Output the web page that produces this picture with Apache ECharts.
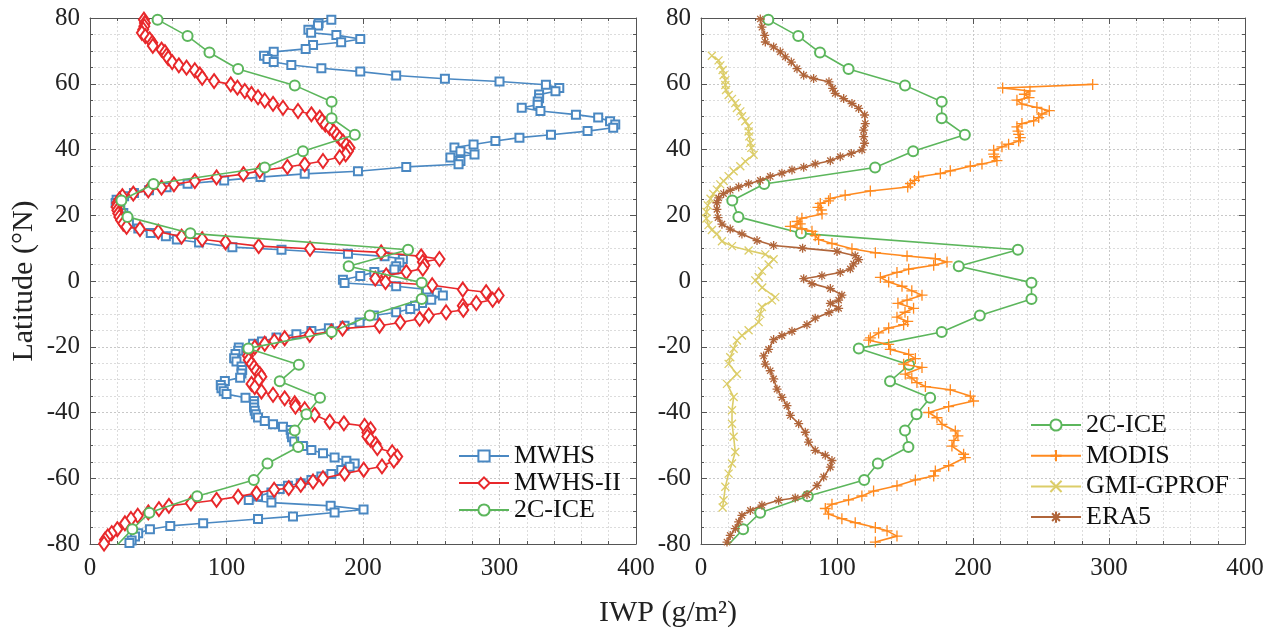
<!DOCTYPE html>
<html><head><meta charset="utf-8">
<script src="https://cdn.jsdelivr.net/npm/echarts@6/dist/echarts.min.js"></script>
<style>html,body{margin:0;padding:0;background:#fff}#c{width:1283px;height:635px}</style>
</head><body><div id="c"></div>
<script>
// ---- data: [latitude, IWP] ----
const xTicks = [0, 100, 200, 300, 400];
const yTicks = [-80, -60, -40, -20, 0, 20, 40, 60, 80];

const mwhs = [[79.5,176.8],[78.4,167.5],[77.7,167],[76.4,160],[75.5,162],[74.8,180.5],[73.6,198],[72.6,184],[71.8,163.4],[70.6,158],[69.7,134.6],[68.5,127.5],[67.5,130],[66.6,134.6],[65.7,147.5],[64.7,169.5],[63.7,198],[62.5,224.3],[61.5,260],[60.7,300],[59.7,334],[58.7,343.8],[57.7,341],[56.7,329],[55.6,329],[54.6,328],[53.6,328],[52.7,316.3],[51.7,330],[50.6,356],[49.7,372.3],[48.6,381],[47.6,384.8],[46.6,383.3],[45.6,364.5],[44.5,337.7],[43.6,314.6],[42.6,297],[41.5,281],[40.6,267],[39.5,271.4],[38.5,281.7],[37.6,264],[36.5,271.4],[35.5,270],[34.7,231.7],[33.4,196.3],[32.6,157.3],[31.6,124.9],[30.6,98.3],[29.6,71.5],[28.5,56.1],[27.6,43.2],[26.8,32.2],[25.8,25],[24.7,19.5],[23.7,18.8],[22.7,20],[21.7,22.2],[20.7,24.4],[19.7,26.1],[18.5,28],[17.5,28.5],[16,35.4],[14.6,44.5],[13.6,55.6],[12.6,63.6],[11.7,79.9],[10.3,104.3],[9.5,140.3],[8.3,189],[7.5,215.8],[6.7,229.2],[5.6,226.7],[4.5,224.3],[3.5,223],[2.7,208.3],[1.5,198],[0.4,185.3],[-0.6,186.5],[-1.6,224.3],[-2.6,246.8],[-3.6,254.1],[-4.4,258.5],[-5.7,250],[-6.7,243.3],[-7.5,238.1],[-8.5,234.6],[-9.5,224.3],[-10.5,208],[-12.6,197.5],[-13.6,186.5],[-14.4,175],[-15.2,162.2],[-16.2,151.2],[-17.2,136.6],[-18.4,126],[-19.1,119.5],[-20.2,109],[-21.2,108.6],[-22.2,106.6],[-23.5,105.6],[-24.5,107.3],[-26,111],[-27.1,111.5],[-28.1,111],[-29.4,110],[-30.4,98.8],[-31.6,95.8],[-32.6,96.3],[-33.5,98],[-34.4,100],[-35.5,113.9],[-36.5,120.2],[-37.5,120.2],[-38.5,120.2],[-39.5,120.7],[-40.5,121.5],[-41.5,123.1],[-42.6,128],[-43.6,134.1],[-44.3,141.4],[-45.3,147],[-46.5,147.5],[-47.5,148],[-48.8,149.6],[-50.2,156],[-51.4,162.2],[-52.4,170.7],[-53.7,179.2],[-54.7,187.8],[-55.5,193.9],[-56.5,190.2],[-57.5,184.1],[-58.7,176.8],[-59.5,169.5],[-60.5,162.2],[-61.5,154.4],[-62.3,145],[-63.3,139],[-64.3,132.9],[-65.5,123.1],[-66.6,116.3],[-67.4,132.9],[-68.4,176.3],[-69.5,200.4],[-70.4,179.2],[-71.6,148.7],[-72.4,123.1],[-73.7,82.9],[-74.5,58.8],[-75.5,43.9],[-76.7,35.3],[-77.7,33],[-78.9,30.5],[-79.7,28.9]];

const mwhs2 = [[79.5,39.5],[78.5,40.2],[77.5,39.8],[76.5,39],[75.5,38],[74.5,40.5],[73.5,43.7],[72.5,45.6],[71.5,46],[70.4,52.4],[69.6,54.9],[68.6,56.1],[67.8,57.3],[66.6,60.2],[65.6,65.1],[64.9,70.7],[64.1,76.8],[62.8,80.5],[61.8,82.2],[60.8,90.9],[59.8,103.1],[58.8,108],[57.8,113.4],[56.9,118.3],[55.9,123.1],[54.9,128],[53.9,134.1],[52.7,141.4],[51.7,152.4],[50.7,162.2],[49.7,168.3],[48.6,170],[47.6,172.4],[46.6,175.6],[45.4,178.7],[44.4,180.9],[43.4,182.9],[42.4,185.3],[41.4,187.7],[40.5,190.2],[39.5,189],[38.5,187.3],[37.7,182.9],[36.5,170.7],[35.5,157.3],[34.7,144.6],[33.5,124.4],[32.5,112.4],[31.5,92.7],[30.4,76.8],[29.4,61.5],[28.4,52.4],[27.6,42.7],[26.6,31.7],[25.8,23.7],[24.8,21.5],[23.7,20],[22.5,19.5],[21.5,20],[20.5,20.7],[19.5,21.5],[18.5,22.7],[17.5,24.4],[16.5,26.8],[15.8,36.6],[15,50],[13.5,67.1],[12.7,82.2],[11.8,99.3],[10.6,123.6],[9.8,161.2],[8.7,213.3],[7.5,242.6],[6.7,256],[5.8,243.8],[4.8,245],[3.8,243.8],[2.7,231.7],[1.7,217],[0.7,209],[-0.3,216.5],[-1.3,250.7],[-2.6,273.1],[-3.4,290.2],[-4.4,299.4],[-5.7,295],[-6.7,283],[-7.5,273.1],[-8.8,273.5],[-9.5,260.9],[-10.5,248.2],[-11.5,241.5],[-12.6,227.3],[-13.6,212.1],[-14.5,185],[-15.4,176.8],[-16.4,161],[-17.4,142.6],[-18.3,135],[-19.1,128],[-20.2,120.7],[-21.5,116.3],[-22.8,115.8],[-24,116.3],[-25.2,118.3],[-26.2,120.2],[-27.3,121.9],[-28.3,124.4],[-29.1,125.6],[-30.3,123.1],[-31.3,118.3],[-32.3,120.7],[-33.6,125.6],[-34.6,134.1],[-35.7,142.6],[-37.2,150],[-38.2,150.5],[-39,157.3],[-40.7,164.6],[-42.8,175.6],[-43.3,186],[-44.1,201.2],[-45.1,205.6],[-46.1,203.2],[-47.3,203.2],[-48.3,205.6],[-49.6,209.3],[-50.8,210.5],[-52.1,221.4],[-53.4,225.1],[-54.6,222.6],[-56.4,213.9],[-57.4,200.5],[-58.6,186.5],[-60,170.7],[-61,163.4],[-62,154.4],[-63,145.6],[-63.5,134.9],[-64.5,122],[-65.6,108.5],[-66.6,92.7],[-67.6,73.9],[-68.4,57.8],[-69.4,50.5],[-70.4,42.7],[-71.4,35],[-72.4,30],[-73.7,25.6],[-75.5,20],[-76.7,15.9],[-77.7,13],[-78.7,11],[-79.9,10.3]];

const ice2c = [[79.5,49.5],[74.5,71.5],[69.5,87.5],[64.5,108.5],[59.5,150],[54.5,177],[49.5,177],[44.5,194],[39.5,156],[34.5,128],[29.5,46.5],[24.5,23],[19.5,27.5],[14.5,73.5],[9.5,233],[4.5,189.5],[-0.5,243],[-5.5,243],[-10.5,205],[-15.5,177],[-20.5,116],[-25.5,153],[-30.5,139],[-35.5,168.5],[-40.5,158.5],[-45.5,150],[-50.5,152.5],[-55.5,130],[-60.5,120],[-65.5,78.5],[-70.5,43.5],[-75.5,31],[-80.5,19.5]];

const modis = [[59.8,288],[58.7,221.8],[57.8,241.9],[56.8,237.8],[55.8,241.2],[55,232.3],[53.8,236],[52.8,247],[51.8,256.1],[50.8,250.7],[49.7,248.3],[48.7,244.6],[47.9,236],[46.9,232.3],[45.6,233.1],[44.6,233.6],[43.6,234.8],[42.6,233.6],[41.6,226.2],[40.8,221.3],[39.8,215.2],[38.6,215.2],[37.8,215.9],[36.6,217.6],[35.6,206.6],[34.9,198],[33.5,183.3],[32.7,176],[31.7,160],[30.6,157],[29.6,154],[28.6,152],[27.4,124.5],[26.1,106],[25.1,95],[24.4,93.8],[23.6,87.7],[22.4,86],[21.6,88.5],[20.4,89],[19.1,74.2],[18.1,70.6],[17.4,73],[16.6,65.7],[15.9,74.2],[15.1,81.6],[13.8,84],[12.6,86.5],[11.4,96.3],[9.8,111],[8.6,128.2],[7.6,151.5],[6.8,172.3],[5.8,180.9],[4.8,171.1],[3.6,152.7],[2.6,144.1],[1.1,131.9],[-0.3,138],[-1.6,147.8],[-3,155],[-4.3,162.5],[-5.8,151.5],[-6.8,144.8],[-8.3,156.3],[-9.5,150],[-11,144.1],[-12.3,152],[-13.3,149],[-14.3,138],[-15.8,130.6],[-17.3,124.5],[-18,123.3],[-19.3,138],[-20.8,139.2],[-22.3,152.7],[-23.6,157.6],[-25.3,149],[-26.3,162.5],[-28.3,150.2],[-29.5,155],[-30.9,158.8],[-32.1,165],[-33.1,183.3],[-35,198],[-36.5,200.4],[-38.2,182.1],[-40,167.4],[-41.6,173.5],[-43.6,177.2],[-45.6,187],[-47.1,188.9],[-48.5,186],[-50.2,184.5],[-52.7,193.1],[-53.7,194.3],[-56.2,182.1],[-57.8,172.3],[-59.3,171.1],[-60.5,157.6],[-62.3,144.1],[-63.9,126.9],[-65.4,118.3],[-66.6,108.5],[-67.9,96.3],[-69.2,91.4],[-70.9,93.8],[-72.3,103.6],[-73.5,113.4],[-75,128.2],[-76,136.8],[-77.6,144.1],[-79.4,128.2]];

const gmi = [[68.5,8],[67.1,12.9],[65.6,14.2],[64.2,15.9],[62.6,16.6],[61.1,17.9],[59.6,17.9],[58.1,18.4],[56.6,20.3],[55.4,22.8],[54.1,25.2],[52.6,26.4],[51.6,28.9],[50.1,30.1],[48.6,32.6],[47.1,35],[45.5,35],[44,35.5],[42,36.3],[40.5,37],[38.4,38.7],[36.4,32.6],[34.9,28.9],[33.4,24],[31.9,20.3],[30.4,16.6],[29.4,14.2],[27.8,11.7],[26.5,9],[25,7],[23,5],[21,4],[19,4],[17,5.5],[15.5,8],[14.3,11.7],[12.1,15.4],[10.6,22.8],[9.3,35],[8.1,47.3],[6.6,53.4],[5,49.7],[3,44.8],[1.2,42.4],[0.2,39.9],[-2,45],[-4.9,54.6],[-5.9,52.2],[-7.9,44.8],[-10,43.6],[-12.5,42.4],[-15,35],[-16.6,30.1],[-18.1,26.4],[-20.6,24],[-23.2,21.5],[-25.2,20.3],[-28.3,26.4],[-31.3,19.1],[-35.3,24],[-39.3,22.8],[-43.4,22.8],[-47.4,24],[-52,25.2],[-55.5,22.8],[-58.6,20.3],[-62.6,17.9],[-66.7,16.6],[-68.9,15.9]];

const era5 = [[79.7,43.6],[77.2,44.8],[74.7,46.8],[72.7,47.3],[71.2,53.4],[69.7,58.3],[68.2,62],[66.6,66.4],[64.6,70.6],[62.6,75.5],[61.6,82.8],[60.6,94.1],[58.6,96.8],[57.1,98.7],[55.5,104.9],[54,111],[52.5,115.9],[50.5,120.3],[47.9,120.8],[45.9,119.6],[43.9,119.6],[41.9,120.3],[39.9,118.4],[38.8,110.5],[37.8,102.4],[36.6,95.1],[35.6,84],[34.6,75.5],[33.8,66.9],[32.8,59.5],[31.8,50.9],[30.6,43.6],[29.6,35],[28.6,27.7],[27.6,21.5],[26.6,16.6],[25.3,13],[23.8,11.7],[21.8,11.7],[19.3,12.5],[17.3,15.4],[15.8,21.5],[14.3,30.1],[12.3,41.2],[10.8,53.4],[10,74.7],[9,100],[7.7,113.4],[6.5,115.9],[5.2,112.2],[3.7,109.8],[2.6,102.4],[1.6,88.9],[0.7,75.5],[-0.8,81.6],[-2.3,95.1],[-4.3,103.6],[-5.8,101.2],[-6.8,95.1],[-8.3,101.2],[-9.6,94.1],[-11.3,84],[-13.3,77.9],[-15.3,66.9],[-16.6,59.5],[-17.8,53.4],[-20.8,49.7],[-22.8,46.1],[-25.3,47.3],[-27.3,50.9],[-29.8,53.4],[-32.9,55.9],[-35.4,59.5],[-37.9,63.2],[-40.9,65.7],[-43.4,71.8],[-46,76.7],[-49,79.1],[-51.5,84],[-53,91.4],[-54.6,96.3],[-56.6,95.1],[-59.6,90.2],[-62.2,85.3],[-65,77.9],[-66,69.3],[-66.7,57.1],[-68.2,44.8],[-69.8,36.3],[-71.3,30.1],[-73.3,27.7],[-75.3,25.2],[-77.4,21.5],[-79.4,19.1]];

// ---- chart ----
const FONT = '"Liberation Serif", "Times New Roman", serif';
const AX = '#555';
const toXY = d => d.map(p => [p[1], p[0]]);

function xAx(gi, pos) {
  const main = pos === 'bottom';
  return {
    type: 'value', gridIndex: gi, position: pos, min: xTicks[0], max: xTicks[xTicks.length - 1], interval: 100,
    axisLine: { show: true, onZero: false, lineStyle: { color: AX, width: 1 } },
    axisTick: { show: true, inside: true, length: 6, lineStyle: { color: AX } },
    minorTick: { show: true, splitNumber: 5, length: 3, lineStyle: { color: AX } },
    splitLine: { show: main, lineStyle: { color: '#c8c8c8', type: [2, 2] } },
    minorSplitLine: { show: main, lineStyle: { color: '#dcdcdc', type: [2, 2] } },
    axisLabel: { show: main, fontFamily: FONT, fontSize: 25, color: '#222', margin: 12 }
  };
}
function yAx(gi, pos) {
  const main = pos === 'left';
  return {
    type: 'value', gridIndex: gi, position: pos, min: yTicks[0], max: yTicks[yTicks.length - 1], interval: 20,
    axisLine: { show: true, onZero: false, lineStyle: { color: AX, width: 1 } },
    axisTick: { show: true, inside: true, length: 6, lineStyle: { color: AX } },
    minorTick: { show: true, splitNumber: 4, length: 3, lineStyle: { color: AX } },
    splitLine: { show: main, lineStyle: { color: '#c8c8c8', type: [2, 2] } },
    minorSplitLine: { show: main, lineStyle: { color: '#dcdcdc', type: [2, 2] } },
    axisLabel: { show: main, fontFamily: FONT, fontSize: 25, color: '#222', margin: 10 }
  };
}

const PLUS = 'path://M0,5L10,5M5,0L5,10';
const CROSS = 'path://M0,0L10,10M10,0L0,10';
const STAR = 'path://M0,5L10,5M5,0L5,10M1.5,1.5L8.5,8.5M8.5,1.5L1.5,8.5';

function ser(name, data, color, symbol, size, gi, z) {
  const isPath = symbol.indexOf('path') === 0;
  return {
    name, type: 'line', data: toXY(data), xAxisIndex: gi * 2, yAxisIndex: gi * 2,
    symbol, symbolSize: size, showSymbol: true, showAllSymbol: true, clip: true, z,
    color,
    lineStyle: { color, width: 1.6 },
    itemStyle: isPath ? { color, borderColor: color, borderWidth: 1.3 } : { color, borderWidth: 1.4 },
    emphasis: { disabled: true }, animation: false
  };
}

const C = { blue: '#4a88c2', red: '#e8282b', green: '#5cb65c', orange: '#ff8a1f', yellow: '#dccd68', brown: '#b0653a' };

const legText = { fontFamily: FONT, fontSize: 26, color: '#111', lineHeight: 26 };

const option = {
  backgroundColor: '#fff',
  animation: false,
  grid: [
    { left: 90, top: 18, width: 546, height: 526 },
    { left: 701, top: 18, width: 544, height: 526 }
  ],
  xAxis: [xAx(0, 'bottom'), xAx(0, 'top'), xAx(1, 'bottom'), xAx(1, 'top')],
  yAxis: [yAx(0, 'left'), yAx(0, 'right'), yAx(1, 'left'), yAx(1, 'right')],
  legend: [
    { orient: 'vertical', left: 453, top: 438, itemWidth: 50, itemHeight: 14, itemGap: 1,
      textStyle: legText, data: ['MWHS', 'MWHS-II', '2C-ICE'], selectedMode: false },
    { orient: 'vertical', left: 1025, top: 407, itemWidth: 50, itemHeight: 14, itemGap: 4.7,
      textStyle: legText, data: ['2C-ICE', 'MODIS', 'GMI-GPROF', 'ERA5'], selectedMode: false }
  ],
  graphic: [
    { type: 'text', x: 24, y: 281, rotation: Math.PI / 2,
      style: { text: 'Latitude (°N)', font: '30px ' + FONT, fill: '#222', textAlign: 'center', textVerticalAlign: 'middle' } },
    { type: 'text', x: 668, y: 613,
      style: { text: 'IWP (g/m²)', font: '30px ' + FONT, fill: '#222', textAlign: 'center', textVerticalAlign: 'middle' } }
  ],
  series: [
    ser('MWHS', mwhs, C.blue, 'emptyRect', 8, 0, 2),
    ser('MWHS-II', mwhs2, C.red, 'emptyDiamond', [10, 14], 0, 3),
    ser('2C-ICE', ice2c, C.green, 'emptyCircle', 10, 0, 4),
    ser('2C-ICE', ice2c, C.green, 'emptyCircle', 10, 1, 2),
    ser('MODIS', modis, C.orange, PLUS, 11, 1, 3),
    ser('GMI-GPROF', gmi, C.yellow, CROSS, 8, 1, 4),
    ser('ERA5', era5, C.brown, STAR, 9, 1, 5)
  ]
};

const chart = echarts.init(document.getElementById('c'), null, { renderer: 'canvas' });
chart.setOption(option);
</script>
</body></html>
